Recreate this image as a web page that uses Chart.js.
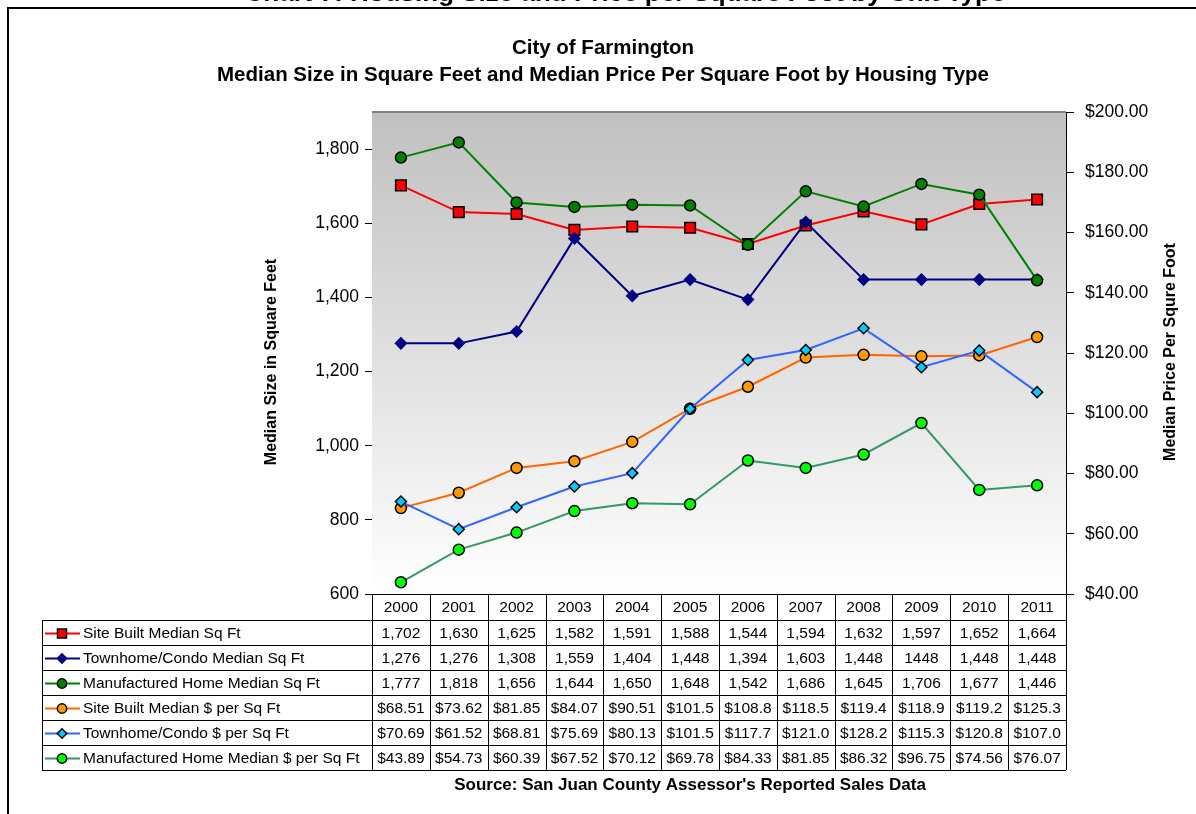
<!DOCTYPE html>
<html>
<head>
<meta charset="utf-8">
<title>City of Farmington – Median Size and Price per Square Foot</title>
<script src="https://cdn.jsdelivr.net/npm/chart.js@4.4.1/dist/chart.umd.min.js"></script>
<style>
  html, body { margin: 0; padding: 0; background: #ffffff; overflow: hidden; }
  canvas { display: block; }
</style>
</head>
<body>
<canvas id="chart" width="1196" height="814"></canvas>
<script>
// ---- data -------------------------------------------------------------
const years = ['2000', '2001', '2002', '2003', '2004', '2005', '2006', '2007', '2008', '2009', '2010', '2011'];

const siteBuiltSqFt     = [1702, 1630, 1625, 1582, 1591, 1588, 1544, 1594, 1632, 1597, 1652, 1664];
const townhomeSqFt      = [1276, 1276, 1308, 1559, 1404, 1448, 1394, 1603, 1448, 1448, 1448, 1448];
const manufacturedSqFt  = [1777, 1818, 1656, 1644, 1650, 1648, 1542, 1686, 1645, 1706, 1677, 1446];

const siteBuiltPrice    = [68.51, 73.62, 81.85, 84.07, 90.51, 101.5, 108.8, 118.5, 119.4, 118.9, 119.2, 125.3];
const townhomePrice     = [70.69, 61.52, 68.81, 75.69, 80.13, 101.5, 117.7, 121.0, 128.2, 115.3, 120.8, 107.0];
const manufacturedPrice = [43.89, 54.73, 60.39, 67.52, 70.12, 69.78, 84.33, 81.85, 86.32, 96.75, 74.56, 76.07];

const sizeTicks  = [600, 800, 1000, 1200, 1400, 1600, 1800];
const priceTicks = [40, 60, 80, 100, 120, 140, 160, 180, 200];

// ---- series appearance -----------------------------------------------
const FONT = 'Arial, "Liberation Sans", sans-serif';
const fmtSize  = v => v.toLocaleString('en-US');
const fmtPrice = v => ('$' + v.toFixed(2)).slice(0, 6);

const series = [
  { label: 'Site Built Median Sq Ft',              data: siteBuiltSqFt,     axis: 'ySize',  fmt: fmtSize,
    line: '#ff0000', fill: '#ff0000', edge: '#000000', style: 'rect',    radius: 7.5 },
  { label: 'Townhome/Condo Median Sq Ft',          data: townhomeSqFt,      axis: 'ySize',  fmt: fmtSize,
    line: '#000080', fill: '#000080', edge: '#000080', style: 'rectRot', radius: 5.5, plainCells: [9] },
  { label: 'Manufactured Home Median Sq Ft',       data: manufacturedSqFt,  axis: 'ySize',  fmt: fmtSize,
    line: '#008000', fill: '#008000', edge: '#000000', style: 'circle',  radius: 5.5 },
  { label: 'Site Built Median $ per Sq Ft',        data: siteBuiltPrice,    axis: 'yPrice', fmt: fmtPrice,
    line: '#ff6600', fill: '#ff9900', edge: '#000000', style: 'circle',  radius: 5.5 },
  { label: 'Townhome/Condo $ per Sq Ft',           data: townhomePrice,     axis: 'yPrice', fmt: fmtPrice,
    line: '#3366ff', fill: '#00ccff', edge: '#000000', style: 'rectRot', radius: 5.5 },
  { label: 'Manufactured Home Median $ per Sq Ft', data: manufacturedPrice, axis: 'yPrice', fmt: fmtPrice,
    line: '#339966', fill: '#00ff00', edge: '#000000', style: 'circle',  radius: 5.5 }
];

const datasets = series.map((s, i) => ({
  label: s.label,
  data: s.data,
  yAxisID: s.axis,
  borderColor: s.line,
  borderWidth: 2,
  pointStyle: s.style,
  pointRadius: s.radius,
  pointBackgroundColor: s.fill,
  pointBorderColor: s.edge,
  pointBorderWidth: 1.5,
  tension: 0,
  order: series.length - i   // later series are painted on top
}));

// ---- plugins ----------------------------------------------------------
// Plot-area gradient and top border
const plotBackground = {
  id: 'plotBackground',
  beforeDatasetsDraw(chart) {
    const { ctx, chartArea: a } = chart;
    ctx.save();
    const g = ctx.createLinearGradient(0, a.top, 0, a.bottom);
    g.addColorStop(0, '#c0c0c0');
    g.addColorStop(1, '#ffffff');
    ctx.fillStyle = g;
    ctx.fillRect(a.left, a.top, a.right - a.left, a.bottom - a.top);
    ctx.strokeStyle = '#808080';
    ctx.lineWidth = 2;
    ctx.beginPath();
    ctx.moveTo(a.left, a.top);
    ctx.lineTo(a.right, a.top);
    ctx.stroke();
    ctx.restore();
  }
};

// Titles, axis titles, frame and source note
const annotations = {
  id: 'annotations',
  afterDraw(chart) {
    const { ctx } = chart;
    ctx.save();
    ctx.fillStyle = '#000';
    ctx.strokeStyle = '#000';

    // outer frame (page border)
    ctx.lineWidth = 2;
    ctx.beginPath();
    ctx.moveTo(8, 814);
    ctx.lineTo(8, 8);
    ctx.lineTo(1196, 8);
    ctx.stroke();

    // report caption above the frame
    ctx.font = 'bold 26px ' + FONT;
    ctx.textAlign = 'center';
    ctx.textBaseline = 'alphabetic';
    ctx.fillText('Chart 7: Housing Size and Price per Square Foot by Unit Type', 625, 1);

    // chart title
    ctx.font = 'bold 20.5px ' + FONT;
    ctx.textBaseline = 'middle';
    ctx.fillText('City of Farmington', 603, 48);
    ctx.fillText('Median Size in Square Feet and Median Price Per Square Foot by Housing Type', 603, 75);

    // axis titles
    ctx.font = 'bold 16px ' + FONT;
    ctx.save();
    ctx.translate(272, 362);
    ctx.rotate(-Math.PI / 2);
    ctx.fillText('Median Size in Square Feet', 0, 0);
    ctx.restore();
    ctx.save();
    ctx.translate(1171, 352);
    ctx.rotate(-Math.PI / 2);
    ctx.fillText('Median Price Per Squre Foot', 0, 0);
    ctx.restore();

    // source
    ctx.font = 'bold 17px ' + FONT;
    ctx.fillText("Source: San Juan County Assessor's Reported Sales Data", 690, 785);
    ctx.restore();
  }
};

// Data table under the x axis, aligned with the category scale
const dataTable = {
  id: 'dataTable',
  afterDraw(chart) {
    const { ctx, chartArea: a } = chart;
    const x = chart.scales.x;
    const colW = x.getPixelForValue(1) - x.getPixelForValue(0);
    const tableLeft = 42;
    const headTop = a.bottom;
    const headH = 26;
    const rowH = 25;
    const bodyTop = headTop + headH;
    const bodyBottom = bodyTop + rowH * series.length;

    ctx.save();
    ctx.strokeStyle = '#000';
    ctx.lineWidth = 1;

    // horizontal rules
    ctx.beginPath();
    for (let r = 0; r <= series.length; r++) {
      const y = Math.round(bodyTop + r * rowH) + 0.5;
      ctx.moveTo(tableLeft, y);
      ctx.lineTo(a.right, y);
    }
    // vertical rules
    ctx.moveTo(tableLeft + 0.5, bodyTop);
    ctx.lineTo(tableLeft + 0.5, bodyBottom);
    for (let c = 0; c <= years.length; c++) {
      const xp = Math.round(x.getPixelForValue(0) - colW / 2 + c * colW) + 0.5;
      ctx.moveTo(xp, headTop);
      ctx.lineTo(xp, bodyBottom);
    }
    ctx.stroke();

    // year header
    ctx.fillStyle = '#000';
    ctx.font = '15.5px ' + FONT;
    ctx.textAlign = 'center';
    ctx.textBaseline = 'middle';
    years.forEach((yr, i) => ctx.fillText(yr, x.getPixelForValue(i), headTop + headH / 2 + 1));

    // series rows
    series.forEach((s, r) => {
      const cy = bodyTop + r * rowH + rowH / 2 + 1;
      // legend key
      ctx.strokeStyle = s.line;
      ctx.lineWidth = 2;
      ctx.beginPath();
      ctx.moveTo(tableLeft + 3, cy);
      ctx.lineTo(tableLeft + 38, cy);
      ctx.stroke();
      ctx.fillStyle = s.fill;
      ctx.strokeStyle = s.edge;
      ctx.lineWidth = 1.5;
      Chart.helpers.drawPoint(ctx, { pointStyle: s.style, radius: s.radius * 0.85, rotation: 0, borderWidth: 1.5 },
        tableLeft + 20, cy);
      ctx.fillStyle = '#000';
      ctx.textAlign = 'left';
      ctx.fillText(s.label, tableLeft + 41, cy);
      // values
      ctx.textAlign = 'center';
      s.data.forEach((v, i) => {
        const txt = (s.plainCells && s.plainCells.includes(i)) ? String(v) : s.fmt(v);
        ctx.fillText(txt, x.getPixelForValue(i), cy);
      });
    });
    ctx.restore();
  }
};

// ---- chart ------------------------------------------------------------
new Chart(document.getElementById('chart'), {
  type: 'line',
  data: { labels: years, datasets },
  plugins: [plotBackground, dataTable, annotations],
  options: {
    responsive: false,
    animation: false,
    devicePixelRatio: 1,
    layout: { padding: { left: 0, right: 0, top: 112, bottom: 0 } },
    plugins: { legend: { display: false }, tooltip: { enabled: false }, title: { display: false } },
    scales: {
      x: {
        type: 'category',
        offset: true,
        grid: { display: false },
        border: { display: true, color: '#000', width: 1 },
        ticks: { display: false },
        afterFit(s) { s.height = 220; s.paddingLeft = 0; s.paddingRight = 0; }
      },
      ySize: {
        position: 'left',
        min: 600,
        max: 1900,
        afterBuildTicks(s) { s.ticks = sizeTicks.map(v => ({ value: v })); },
        afterFit(s) { s.width = 372; s.paddingTop = 0; s.paddingBottom = 0; },
        grid: { drawOnChartArea: false, drawTicks: true, tickLength: 7, color: '#000' },
        border: { display: true, color: '#000', width: 1 },
        ticks: { color: '#000', padding: 6, font: { family: FONT, size: 17.5 }, callback: v => fmtSize(v) }
      },
      yPrice: {
        position: 'right',
        min: 40,
        max: 200,
        afterBuildTicks(s) { s.ticks = priceTicks.map(v => ({ value: v })); },
        afterFit(s) { s.width = 130; s.paddingTop = 0; s.paddingBottom = 0; },
        grid: { drawOnChartArea: false, drawTicks: true, tickLength: 8, color: '#000' },
        border: { display: true, color: '#000', width: 1 },
        ticks: { color: '#000', padding: 11, font: { family: FONT, size: 17.5 }, callback: v => '$' + v.toFixed(2) }
      }
    }
  }
});
</script>
</body>
</html>
